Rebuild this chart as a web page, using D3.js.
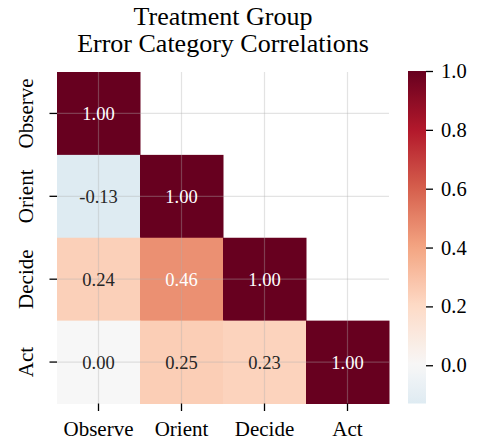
<!DOCTYPE html>
<html>
<head>
<meta charset="utf-8">
<script src="https://cdn.jsdelivr.net/npm/d3@7"></script>
<style>
  html, body { margin: 0; padding: 0; background: #fff; }
  svg { display: block; font-family: "Liberation Serif", "Times New Roman", serif; }
</style>
</head>
<body>
<svg width="479" height="444"></svg>
<script>
// error categories (rows and columns)
var categories = ['Observe', 'Orient', 'Decide', 'Act'];

// lower triangle of the correlation matrix, row by row
var rowObserve = [1.00];
var rowOrient = [-0.13, 1.00];
var rowDecide = [0.24, 0.46, 1.00];
var rowAct = [0.00, 0.25, 0.23, 1.00];
var matrix = [rowObserve, rowOrient, rowDecide, rowAct];

var colorbarTicks = [0.0, 0.2, 0.4, 0.6, 0.8, 1.0];
var titleLines = ['Treatment Group', 'Error Category Correlations'];

// RdBu_r stops (blue -> red)
var rdbuStops = ['#053061', '#2166ac', '#4393c3', '#92c5de', '#d1e5f0', '#f7f7f7',
                 '#fddbc7', '#f4a582', '#d6604d', '#b2182b', '#67001f'];

var svg = d3.select('svg');

var plotLeft = 57, plotRight = 389, plotTop = 72, plotBottom = 403.5;

var x = d3.scaleBand().domain(categories).range([plotLeft, plotRight]);
var y = d3.scaleBand().domain(categories).range([plotTop, plotBottom]);

var vmin = d3.min(matrix, function (r) { return d3.min(r); });
var vmax = d3.max(matrix, function (r) { return d3.max(r); });

// diverging map centred at 0 over [-1, 1]
var color = d3.scaleLinear()
    .domain(d3.range(rdbuStops.length).map(function (i) { return -1 + 2 * i / (rdbuStops.length - 1); }))
    .range(rdbuStops)
    .interpolate(d3.interpolateRgb);

function luminance(c) {
    var rgb = d3.rgb(c);
    var ch = [rgb.r, rgb.g, rgb.b].map(function (u) {
        u = u / 255;
        return u <= 0.03928 ? u / 12.92 : Math.pow((u + 0.055) / 1.055, 2.4);
    });
    return 0.2126 * ch[0] + 0.7152 * ch[1] + 0.0722 * ch[2];
}

var cells = [];
matrix.forEach(function (row, i) {
    row.forEach(function (v, j) {
        cells.push({ row: categories[i], col: categories[j], value: v });
    });
});

svg.append('g').selectAll('rect')
    .data(cells)
    .enter()
    .append('rect')
    .attr('x', function (d) { return x(d.col); })
    .attr('y', function (d) { return y(d.row); })
    .attr('width', x.bandwidth() + 0.5)
    .attr('height', y.bandwidth() + 0.5)
    .attr('fill', function (d) { return color(d.value); });

// grid lines over the cells
var grid = svg.append('g')
    .attr('stroke', '#b0b0b0')
    .attr('stroke-opacity', 0.35)
    .attr('stroke-width', 1.2);

grid.selectAll('.gx')
    .data(categories)
    .enter()
    .append('line')
    .attr('x1', function (d) { return x(d) + x.bandwidth() / 2; })
    .attr('x2', function (d) { return x(d) + x.bandwidth() / 2; })
    .attr('y1', plotTop)
    .attr('y2', plotBottom);

grid.selectAll('.gy')
    .data(categories)
    .enter()
    .append('line')
    .attr('y1', function (d) { return y(d) + y.bandwidth() / 2; })
    .attr('y2', function (d) { return y(d) + y.bandwidth() / 2; })
    .attr('x1', plotLeft)
    .attr('x2', plotRight);

// annotations
svg.append('g').selectAll('text')
    .data(cells)
    .enter()
    .append('text')
    .attr('x', function (d) { return x(d.col) + x.bandwidth() / 2; })
    .attr('y', function (d) { return y(d.row) + y.bandwidth() / 2; })
    .attr('dy', '0.35em')
    .attr('text-anchor', 'middle')
    .style('font-size', '18.5px')
    .attr('fill', function (d) { return luminance(color(d.value)) > 0.408 ? '#262626' : '#ffffff'; })
    .text(function (d) { return d.value.toFixed(2); });

// axes
var xAxis = svg.append('g')
    .attr('transform', 'translate(0,' + plotBottom + ')')
    .call(d3.axisBottom(x).tickSize(7.5).tickPadding(10));

var yAxis = svg.append('g')
    .attr('transform', 'translate(' + plotLeft + ',0)')
    .call(d3.axisLeft(y).tickSize(7.5).tickPadding(0));

[xAxis, yAxis].forEach(function (ax) {
    ax.select('.domain').remove();
    ax.selectAll('line').attr('stroke', '#000').attr('stroke-width', 1.3);
    ax.selectAll('text')
        .attr('fill', '#000')
        .style('font-family', '"Liberation Serif", serif')
        .style('font-size', '21px');
});

xAxis.selectAll('text').attr('dy', '0.71em');

yAxis.selectAll('text')
    .attr('x', null)
    .attr('dy', null)
    .attr('text-anchor', 'middle')
    .attr('transform', 'translate(-24.5,0) rotate(-90)');

// colorbar
var cbLeft = 408, cbRight = 426;
var cbScale = d3.scaleLinear().domain([vmin, vmax]).range([plotBottom, 71]);

var grad = svg.append('defs').append('linearGradient')
    .attr('id', 'cbgrad')
    .attr('x1', 0).attr('y1', 1).attr('x2', 0).attr('y2', 0);

d3.range(0, 1.0001, 0.02).forEach(function (t) {
    var v = vmin + t * (vmax - vmin);
    grad.append('stop')
        .attr('offset', t)
        .attr('stop-color', color(v));
});

svg.append('rect')
    .attr('x', cbLeft)
    .attr('y', cbScale(vmax))
    .attr('width', cbRight - cbLeft)
    .attr('height', cbScale(vmin) - cbScale(vmax))
    .attr('fill', 'url(#cbgrad)');

var cbAxis = svg.append('g')
    .attr('transform', 'translate(' + cbRight + ',0)')
    .call(d3.axisRight(cbScale).tickValues(colorbarTicks).tickFormat(function (d) { return d.toFixed(1); }).tickSize(7).tickPadding(8));

cbAxis.select('.domain').remove();
cbAxis.selectAll('line').attr('stroke', '#000').attr('stroke-width', 1.3);
cbAxis.selectAll('text')
    .attr('fill', '#000')
    .style('font-family', '"Liberation Serif", serif')
    .style('font-size', '20.5px');

// title
svg.append('g').selectAll('text')
    .data(titleLines)
    .enter()
    .append('text')
    .attr('x', (plotLeft + plotRight) / 2)
    .attr('y', function (d, i) { return 25 + i * 26.5; })
    .attr('text-anchor', 'middle')
    .attr('fill', '#000')
    .style('font-size', '26px')
    .text(function (d) { return d; });
</script>
</body>
</html>
